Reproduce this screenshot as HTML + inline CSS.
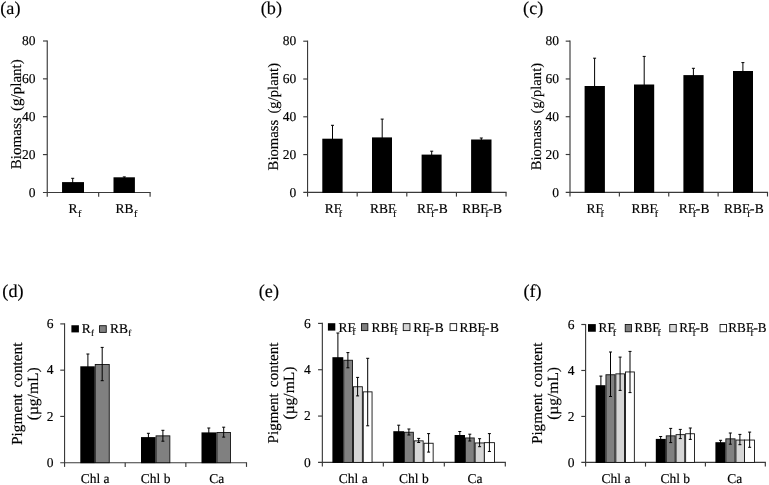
<!DOCTYPE html>
<html lang="en"><head><meta charset="utf-8"><title>Figure</title>
<style>
html,body{margin:0;padding:0;background:#fff;}
svg{display:block;font-family:"Liberation Serif", "Times New Roman", serif;fill:#000;text-rendering:geometricPrecision;}
text{stroke:#000;stroke-width:0.15px;}
</style></head>
<body>
<svg width="769" height="485" viewBox="0 0 769 485">
<rect width="769" height="485" fill="#fff"/>
<text x="0.30" y="14.10" font-size="18.2" text-anchor="start" >(a)</text>
<text x="260.80" y="14.10" font-size="18.2" text-anchor="start" >(b)</text>
<text x="523.10" y="14.30" font-size="18.2" text-anchor="start" >(c)</text>
<text x="2.35" y="296.60" font-size="18.2" text-anchor="start" >(d)</text>
<text x="258.75" y="296.50" font-size="18.2" text-anchor="start" >(e)</text>
<text x="523.40" y="296.60" font-size="18.2" text-anchor="start" >(f)</text>
<line x1="47.25" y1="40.42" x2="47.25" y2="196.65" stroke="#3a3a3a" stroke-width="1.15"/>
<line x1="42.95" y1="192.45" x2="150.67" y2="192.45" stroke="#3a3a3a" stroke-width="1.15"/>
<line x1="98.67" y1="192.45" x2="98.67" y2="196.65" stroke="#3a3a3a" stroke-width="1.15"/>
<line x1="150.10" y1="192.45" x2="150.10" y2="196.65" stroke="#3a3a3a" stroke-width="1.15"/>
<line x1="42.95" y1="41.00" x2="47.25" y2="41.00" stroke="#3a3a3a" stroke-width="1.15"/>
<text x="35.55" y="45.25" font-size="13.5" text-anchor="end" >80</text>
<line x1="42.95" y1="78.86" x2="47.25" y2="78.86" stroke="#3a3a3a" stroke-width="1.15"/>
<text x="35.55" y="83.11" font-size="13.5" text-anchor="end" >60</text>
<line x1="42.95" y1="116.72" x2="47.25" y2="116.72" stroke="#3a3a3a" stroke-width="1.15"/>
<text x="35.55" y="120.97" font-size="13.5" text-anchor="end" >40</text>
<line x1="42.95" y1="154.59" x2="47.25" y2="154.59" stroke="#3a3a3a" stroke-width="1.15"/>
<text x="35.55" y="158.84" font-size="13.5" text-anchor="end" >20</text>
<text x="35.55" y="196.70" font-size="13.5" text-anchor="end" >0</text>
<text transform="translate(21.10,114.20) rotate(-90)" font-size="15.05" word-spacing="2.6" text-anchor="middle">Biomass (g/plant)</text>
<line x1="72.70" y1="178.30" x2="72.70" y2="192.45" stroke="#000" stroke-width="1.0"/>
<line x1="71.20" y1="178.30" x2="74.20" y2="178.30" stroke="#000" stroke-width="1.0"/>
<line x1="124.30" y1="176.90" x2="124.30" y2="192.45" stroke="#000" stroke-width="1.0"/>
<line x1="122.80" y1="176.90" x2="125.80" y2="176.90" stroke="#000" stroke-width="1.0"/>
<rect x="62.05" y="182.10" width="21.95" height="10.85" fill="#000"/>
<rect x="113.50" y="177.30" width="21.40" height="15.65" fill="#000"/>
<text x="68.40" y="212.80" font-size="13.5" text-anchor="start" >R<tspan dx="0.5" dy="3.7" font-size="10">f</tspan></text>
<text x="115.60" y="212.80" font-size="13.5" text-anchor="start" >RB<tspan dx="0.5" dy="3.7" font-size="10">f</tspan></text>
<line x1="307.55" y1="40.62" x2="307.55" y2="196.60" stroke="#3a3a3a" stroke-width="1.15"/>
<line x1="303.25" y1="192.40" x2="506.62" y2="192.40" stroke="#3a3a3a" stroke-width="1.15"/>
<line x1="357.18" y1="192.40" x2="357.18" y2="196.60" stroke="#3a3a3a" stroke-width="1.15"/>
<line x1="406.80" y1="192.40" x2="406.80" y2="196.60" stroke="#3a3a3a" stroke-width="1.15"/>
<line x1="456.43" y1="192.40" x2="456.43" y2="196.60" stroke="#3a3a3a" stroke-width="1.15"/>
<line x1="506.05" y1="192.40" x2="506.05" y2="196.60" stroke="#3a3a3a" stroke-width="1.15"/>
<line x1="303.25" y1="41.20" x2="307.55" y2="41.20" stroke="#3a3a3a" stroke-width="1.15"/>
<text x="296.35" y="45.45" font-size="13.5" text-anchor="end" >80</text>
<line x1="303.25" y1="79.00" x2="307.55" y2="79.00" stroke="#3a3a3a" stroke-width="1.15"/>
<text x="296.35" y="83.25" font-size="13.5" text-anchor="end" >60</text>
<line x1="303.25" y1="116.80" x2="307.55" y2="116.80" stroke="#3a3a3a" stroke-width="1.15"/>
<text x="296.35" y="121.05" font-size="13.5" text-anchor="end" >40</text>
<line x1="303.25" y1="154.60" x2="307.55" y2="154.60" stroke="#3a3a3a" stroke-width="1.15"/>
<text x="296.35" y="158.85" font-size="13.5" text-anchor="end" >20</text>
<text x="296.35" y="196.65" font-size="13.5" text-anchor="end" >0</text>
<text transform="translate(277.50,116.70) rotate(-90)" font-size="14.7" word-spacing="2.6" text-anchor="middle">Biomass (g/plant)</text>
<line x1="332.50" y1="125.30" x2="332.50" y2="192.40" stroke="#000" stroke-width="1.0"/>
<line x1="331.00" y1="125.30" x2="334.00" y2="125.30" stroke="#000" stroke-width="1.0"/>
<line x1="382.20" y1="119.10" x2="382.20" y2="192.40" stroke="#000" stroke-width="1.0"/>
<line x1="380.70" y1="119.10" x2="383.70" y2="119.10" stroke="#000" stroke-width="1.0"/>
<line x1="431.70" y1="151.20" x2="431.70" y2="192.40" stroke="#000" stroke-width="1.0"/>
<line x1="430.20" y1="151.20" x2="433.20" y2="151.20" stroke="#000" stroke-width="1.0"/>
<line x1="481.30" y1="138.00" x2="481.30" y2="192.40" stroke="#000" stroke-width="1.0"/>
<line x1="479.80" y1="138.00" x2="482.80" y2="138.00" stroke="#000" stroke-width="1.0"/>
<rect x="322.30" y="138.70" width="20.30" height="54.20" fill="#000"/>
<rect x="372.00" y="137.40" width="20.00" height="55.50" fill="#000"/>
<rect x="421.60" y="154.60" width="20.00" height="38.30" fill="#000"/>
<rect x="471.10" y="139.50" width="20.40" height="53.40" fill="#000"/>
<text x="324.80" y="212.80" font-size="13.5" text-anchor="start" >RF<tspan dx="-2.5" dy="4.1" font-size="10">f</tspan></text>
<text x="369.90" y="212.80" font-size="13.5" text-anchor="start" >RBF<tspan dx="-2.5" dy="4.1" font-size="10">f</tspan></text>
<text x="417.00" y="212.80" font-size="13.5" text-anchor="start" >RF<tspan dx="-2.5" dy="4.1" font-size="10">f</tspan><tspan dx="-0.3" dy="-4.1">-</tspan><tspan dx="0.2">B</tspan></text>
<text x="462.30" y="212.80" font-size="13.5" text-anchor="start" >RBF<tspan dx="-2.5" dy="4.1" font-size="10">f</tspan><tspan dx="-0.3" dy="-4.1">-</tspan><tspan dx="0.2">B</tspan></text>
<line x1="570.00" y1="40.57" x2="570.00" y2="196.50" stroke="#3a3a3a" stroke-width="1.15"/>
<line x1="565.70" y1="192.30" x2="768.08" y2="192.30" stroke="#3a3a3a" stroke-width="1.15"/>
<line x1="619.38" y1="192.30" x2="619.38" y2="196.50" stroke="#3a3a3a" stroke-width="1.15"/>
<line x1="668.75" y1="192.30" x2="668.75" y2="196.50" stroke="#3a3a3a" stroke-width="1.15"/>
<line x1="718.12" y1="192.30" x2="718.12" y2="196.50" stroke="#3a3a3a" stroke-width="1.15"/>
<line x1="767.50" y1="192.30" x2="767.50" y2="196.50" stroke="#3a3a3a" stroke-width="1.15"/>
<line x1="565.70" y1="41.15" x2="570.00" y2="41.15" stroke="#3a3a3a" stroke-width="1.15"/>
<text x="559.00" y="45.40" font-size="13.5" text-anchor="end" >80</text>
<line x1="565.70" y1="78.94" x2="570.00" y2="78.94" stroke="#3a3a3a" stroke-width="1.15"/>
<text x="559.00" y="83.19" font-size="13.5" text-anchor="end" >60</text>
<line x1="565.70" y1="116.72" x2="570.00" y2="116.72" stroke="#3a3a3a" stroke-width="1.15"/>
<text x="559.00" y="120.97" font-size="13.5" text-anchor="end" >40</text>
<line x1="565.70" y1="154.51" x2="570.00" y2="154.51" stroke="#3a3a3a" stroke-width="1.15"/>
<text x="559.00" y="158.76" font-size="13.5" text-anchor="end" >20</text>
<text x="559.00" y="196.55" font-size="13.5" text-anchor="end" >0</text>
<text transform="translate(540.60,116.55) rotate(-90)" font-size="14.7" word-spacing="2.6" text-anchor="middle">Biomass (g/plant)</text>
<line x1="594.60" y1="58.20" x2="594.60" y2="192.30" stroke="#000" stroke-width="1.0"/>
<line x1="593.10" y1="58.20" x2="596.10" y2="58.20" stroke="#000" stroke-width="1.0"/>
<line x1="644.20" y1="56.40" x2="644.20" y2="192.30" stroke="#000" stroke-width="1.0"/>
<line x1="642.70" y1="56.40" x2="645.70" y2="56.40" stroke="#000" stroke-width="1.0"/>
<line x1="693.40" y1="68.30" x2="693.40" y2="192.30" stroke="#000" stroke-width="1.0"/>
<line x1="691.90" y1="68.30" x2="694.90" y2="68.30" stroke="#000" stroke-width="1.0"/>
<line x1="742.90" y1="62.60" x2="742.90" y2="192.30" stroke="#000" stroke-width="1.0"/>
<line x1="741.40" y1="62.60" x2="744.40" y2="62.60" stroke="#000" stroke-width="1.0"/>
<rect x="584.60" y="86.00" width="20.30" height="106.80" fill="#000"/>
<rect x="634.00" y="84.50" width="20.20" height="108.30" fill="#000"/>
<rect x="683.40" y="75.10" width="20.20" height="117.70" fill="#000"/>
<rect x="733.00" y="71.00" width="20.00" height="121.80" fill="#000"/>
<text x="586.50" y="212.80" font-size="13.5" text-anchor="start" >RF<tspan dx="-2.5" dy="4.1" font-size="10">f</tspan></text>
<text x="631.60" y="212.80" font-size="13.5" text-anchor="start" >RBF<tspan dx="-2.5" dy="4.1" font-size="10">f</tspan></text>
<text x="678.80" y="212.80" font-size="13.5" text-anchor="start" >RF<tspan dx="-2.5" dy="4.1" font-size="10">f</tspan><tspan dx="-0.3" dy="-4.1">-</tspan><tspan dx="0.2">B</tspan></text>
<text x="724.00" y="212.80" font-size="13.5" text-anchor="start" >RBF<tspan dx="-2.5" dy="4.1" font-size="10">f</tspan><tspan dx="-0.3" dy="-4.1">-</tspan><tspan dx="0.2">B</tspan></text>
<line x1="64.55" y1="323.32" x2="64.55" y2="466.90" stroke="#3a3a3a" stroke-width="1.15"/>
<line x1="60.25" y1="462.70" x2="247.07" y2="462.70" stroke="#3a3a3a" stroke-width="1.15"/>
<line x1="125.20" y1="462.70" x2="125.20" y2="466.90" stroke="#3a3a3a" stroke-width="1.15"/>
<line x1="185.85" y1="462.70" x2="185.85" y2="466.90" stroke="#3a3a3a" stroke-width="1.15"/>
<line x1="246.50" y1="462.70" x2="246.50" y2="466.90" stroke="#3a3a3a" stroke-width="1.15"/>
<line x1="60.25" y1="323.90" x2="64.55" y2="323.90" stroke="#3a3a3a" stroke-width="1.15"/>
<text x="53.45" y="328.15" font-size="13.5" text-anchor="end" >6</text>
<line x1="60.25" y1="370.17" x2="64.55" y2="370.17" stroke="#3a3a3a" stroke-width="1.15"/>
<text x="53.45" y="374.42" font-size="13.5" text-anchor="end" >4</text>
<line x1="60.25" y1="416.43" x2="64.55" y2="416.43" stroke="#3a3a3a" stroke-width="1.15"/>
<text x="53.45" y="420.68" font-size="13.5" text-anchor="end" >2</text>
<text x="53.45" y="466.95" font-size="13.5" text-anchor="end" >0</text>
<text transform="translate(21.70,393.70) rotate(-90)" font-size="15.3" word-spacing="2.6" text-anchor="middle">Pigment content</text>
<text transform="translate(38.00,393.80) rotate(-90)" font-size="15.5" word-spacing="2.6" text-anchor="middle">(µg/mL)</text>
<rect x="80.30" y="366.30" width="14.50" height="96.90" fill="#000"/>
<rect x="95.25" y="364.45" width="14.00" height="98.25" fill="#808080" stroke="#111" stroke-width="0.9"/>
<rect x="141.00" y="437.10" width="14.60" height="26.10" fill="#000"/>
<rect x="156.05" y="435.85" width="13.80" height="26.85" fill="#808080" stroke="#111" stroke-width="0.9"/>
<rect x="201.50" y="432.40" width="15.00" height="30.80" fill="#000"/>
<rect x="216.95" y="432.45" width="13.50" height="30.25" fill="#808080" stroke="#111" stroke-width="0.9"/>
<line x1="87.90" y1="354.00" x2="87.90" y2="462.70" stroke="#000" stroke-width="1.0"/>
<line x1="86.40" y1="354.00" x2="89.40" y2="354.00" stroke="#000" stroke-width="1.0"/>
<line x1="102.20" y1="347.40" x2="102.20" y2="380.70" stroke="#000" stroke-width="1.0"/>
<line x1="100.70" y1="347.40" x2="103.70" y2="347.40" stroke="#000" stroke-width="1.0"/>
<line x1="100.70" y1="380.70" x2="103.70" y2="380.70" stroke="#000" stroke-width="1.0"/>
<line x1="148.40" y1="433.30" x2="148.40" y2="462.70" stroke="#000" stroke-width="1.0"/>
<line x1="146.90" y1="433.30" x2="149.90" y2="433.30" stroke="#000" stroke-width="1.0"/>
<line x1="162.90" y1="430.30" x2="162.90" y2="441.20" stroke="#000" stroke-width="1.0"/>
<line x1="161.40" y1="430.30" x2="164.40" y2="430.30" stroke="#000" stroke-width="1.0"/>
<line x1="161.40" y1="441.20" x2="164.40" y2="441.20" stroke="#000" stroke-width="1.0"/>
<line x1="208.80" y1="428.00" x2="208.80" y2="462.70" stroke="#000" stroke-width="1.0"/>
<line x1="207.30" y1="428.00" x2="210.30" y2="428.00" stroke="#000" stroke-width="1.0"/>
<line x1="223.70" y1="427.20" x2="223.70" y2="437.10" stroke="#000" stroke-width="1.0"/>
<line x1="222.20" y1="427.20" x2="225.20" y2="427.20" stroke="#000" stroke-width="1.0"/>
<line x1="222.20" y1="437.10" x2="225.20" y2="437.10" stroke="#000" stroke-width="1.0"/>
<text x="95.10" y="483.30" font-size="13.5" text-anchor="middle" >Chl a</text>
<text x="155.60" y="483.30" font-size="13.5" text-anchor="middle" >Chl b</text>
<text x="216.70" y="483.30" font-size="13.5" text-anchor="middle" >Ca</text>
<rect x="71.40" y="325.25" width="7.50" height="7.15" fill="#000"/>
<text x="81.70" y="332.85" font-size="13.5" text-anchor="start" >R<tspan dx="0.4" dy="3.3" font-size="9">f</tspan></text>
<rect x="99.55" y="325.70" width="6.70" height="6.70" fill="#808080" stroke="#111" stroke-width="0.9"/>
<text x="109.90" y="332.85" font-size="13.5" text-anchor="start" >RB<tspan dx="0.4" dy="3.3" font-size="9">f</tspan></text>
<line x1="322.35" y1="322.82" x2="322.35" y2="466.60" stroke="#3a3a3a" stroke-width="1.15"/>
<line x1="318.05" y1="462.40" x2="505.88" y2="462.40" stroke="#3a3a3a" stroke-width="1.15"/>
<line x1="383.33" y1="462.40" x2="383.33" y2="466.60" stroke="#3a3a3a" stroke-width="1.15"/>
<line x1="444.32" y1="462.40" x2="444.32" y2="466.60" stroke="#3a3a3a" stroke-width="1.15"/>
<line x1="505.30" y1="462.40" x2="505.30" y2="466.60" stroke="#3a3a3a" stroke-width="1.15"/>
<line x1="318.05" y1="323.40" x2="322.35" y2="323.40" stroke="#3a3a3a" stroke-width="1.15"/>
<text x="310.65" y="327.65" font-size="13.5" text-anchor="end" >6</text>
<line x1="318.05" y1="369.73" x2="322.35" y2="369.73" stroke="#3a3a3a" stroke-width="1.15"/>
<text x="310.65" y="373.98" font-size="13.5" text-anchor="end" >4</text>
<line x1="318.05" y1="416.07" x2="322.35" y2="416.07" stroke="#3a3a3a" stroke-width="1.15"/>
<text x="310.65" y="420.32" font-size="13.5" text-anchor="end" >2</text>
<text x="310.65" y="466.65" font-size="13.5" text-anchor="end" >0</text>
<text transform="translate(278.00,393.00) rotate(-90)" font-size="15.05" word-spacing="2.6" text-anchor="middle">Pigment content</text>
<text transform="translate(294.30,393.10) rotate(-90)" font-size="15.5" word-spacing="2.6" text-anchor="middle">(µg/mL)</text>
<rect x="332.40" y="357.20" width="10.90" height="105.70" fill="#000"/>
<rect x="343.75" y="360.25" width="8.80" height="102.15" fill="#808080" stroke="#111" stroke-width="0.9"/>
<rect x="353.45" y="386.75" width="8.90" height="75.65" fill="#d6d6d6" stroke="#111" stroke-width="0.9"/>
<rect x="363.25" y="391.85" width="8.80" height="70.55" fill="#fff" stroke="#111" stroke-width="0.9"/>
<rect x="393.30" y="431.20" width="10.80" height="31.70" fill="#000"/>
<rect x="404.55" y="432.25" width="8.80" height="30.15" fill="#808080" stroke="#111" stroke-width="0.9"/>
<rect x="414.25" y="440.85" width="8.90" height="21.55" fill="#d6d6d6" stroke="#111" stroke-width="0.9"/>
<rect x="424.05" y="443.25" width="9.10" height="19.15" fill="#fff" stroke="#111" stroke-width="0.9"/>
<rect x="454.60" y="435.00" width="10.40" height="27.90" fill="#000"/>
<rect x="465.45" y="437.95" width="8.80" height="24.45" fill="#808080" stroke="#111" stroke-width="0.9"/>
<rect x="475.15" y="442.95" width="9.20" height="19.45" fill="#d6d6d6" stroke="#111" stroke-width="0.9"/>
<rect x="484.35" y="442.65" width="10.10" height="19.75" fill="#fff" stroke="#111" stroke-width="0.9"/>
<line x1="337.90" y1="333.00" x2="337.90" y2="462.40" stroke="#000" stroke-width="1.0"/>
<line x1="336.40" y1="333.00" x2="339.40" y2="333.00" stroke="#000" stroke-width="1.0"/>
<line x1="347.90" y1="352.60" x2="347.90" y2="367.80" stroke="#000" stroke-width="1.0"/>
<line x1="346.40" y1="352.60" x2="349.40" y2="352.60" stroke="#000" stroke-width="1.0"/>
<line x1="346.40" y1="367.80" x2="349.40" y2="367.80" stroke="#000" stroke-width="1.0"/>
<line x1="357.60" y1="377.40" x2="357.60" y2="395.90" stroke="#000" stroke-width="1.0"/>
<line x1="356.10" y1="377.40" x2="359.10" y2="377.40" stroke="#000" stroke-width="1.0"/>
<line x1="356.10" y1="395.90" x2="359.10" y2="395.90" stroke="#000" stroke-width="1.0"/>
<line x1="367.70" y1="358.30" x2="367.70" y2="425.80" stroke="#000" stroke-width="1.0"/>
<line x1="366.20" y1="358.30" x2="369.20" y2="358.30" stroke="#000" stroke-width="1.0"/>
<line x1="366.20" y1="425.80" x2="369.20" y2="425.80" stroke="#000" stroke-width="1.0"/>
<line x1="398.70" y1="425.20" x2="398.70" y2="462.40" stroke="#000" stroke-width="1.0"/>
<line x1="397.20" y1="425.20" x2="400.20" y2="425.20" stroke="#000" stroke-width="1.0"/>
<line x1="408.90" y1="429.00" x2="408.90" y2="435.00" stroke="#000" stroke-width="1.0"/>
<line x1="407.40" y1="429.00" x2="410.40" y2="429.00" stroke="#000" stroke-width="1.0"/>
<line x1="407.40" y1="435.00" x2="410.40" y2="435.00" stroke="#000" stroke-width="1.0"/>
<line x1="418.70" y1="438.40" x2="418.70" y2="442.50" stroke="#000" stroke-width="1.0"/>
<line x1="417.20" y1="438.40" x2="420.20" y2="438.40" stroke="#000" stroke-width="1.0"/>
<line x1="417.20" y1="442.50" x2="420.20" y2="442.50" stroke="#000" stroke-width="1.0"/>
<line x1="428.60" y1="433.60" x2="428.60" y2="452.10" stroke="#000" stroke-width="1.0"/>
<line x1="427.10" y1="433.60" x2="430.10" y2="433.60" stroke="#000" stroke-width="1.0"/>
<line x1="427.10" y1="452.10" x2="430.10" y2="452.10" stroke="#000" stroke-width="1.0"/>
<line x1="459.80" y1="431.50" x2="459.80" y2="462.40" stroke="#000" stroke-width="1.0"/>
<line x1="458.30" y1="431.50" x2="461.30" y2="431.50" stroke="#000" stroke-width="1.0"/>
<line x1="469.80" y1="434.20" x2="469.80" y2="441.00" stroke="#000" stroke-width="1.0"/>
<line x1="468.30" y1="434.20" x2="471.30" y2="434.20" stroke="#000" stroke-width="1.0"/>
<line x1="468.30" y1="441.00" x2="471.30" y2="441.00" stroke="#000" stroke-width="1.0"/>
<line x1="479.60" y1="438.70" x2="479.60" y2="446.70" stroke="#000" stroke-width="1.0"/>
<line x1="478.10" y1="438.70" x2="481.10" y2="438.70" stroke="#000" stroke-width="1.0"/>
<line x1="478.10" y1="446.70" x2="481.10" y2="446.70" stroke="#000" stroke-width="1.0"/>
<line x1="489.40" y1="433.60" x2="489.40" y2="451.50" stroke="#000" stroke-width="1.0"/>
<line x1="487.90" y1="433.60" x2="490.90" y2="433.60" stroke="#000" stroke-width="1.0"/>
<line x1="487.90" y1="451.50" x2="490.90" y2="451.50" stroke="#000" stroke-width="1.0"/>
<text x="353.20" y="483.30" font-size="13.5" text-anchor="middle" >Chl a</text>
<text x="413.90" y="483.30" font-size="13.5" text-anchor="middle" >Chl b</text>
<text x="474.90" y="483.30" font-size="13.5" text-anchor="middle" >Ca</text>
<rect x="327.90" y="323.20" width="7.40" height="7.40" fill="#000"/>
<text x="338.50" y="331.70" font-size="13.5" text-anchor="start" >RF<tspan dx="-2.7" dy="3.6" font-size="10">f</tspan></text>
<rect x="361.45" y="323.65" width="6.40" height="6.95" fill="#808080" stroke="#111" stroke-width="0.9"/>
<text x="371.50" y="331.70" font-size="13.5" text-anchor="start" >RBF<tspan dx="-2.7" dy="3.6" font-size="10">f</tspan></text>
<rect x="403.25" y="323.65" width="6.70" height="6.95" fill="#d6d6d6" stroke="#111" stroke-width="0.9"/>
<text x="413.20" y="331.70" font-size="13.5" text-anchor="start" >RF<tspan dx="-3.4" dy="4.1" font-size="10">f</tspan><tspan dx="-0.2" dy="-4.1">-</tspan><tspan dx="0.9">B</tspan></text>
<rect x="450.05" y="323.65" width="6.60" height="6.95" fill="#fff" stroke="#111" stroke-width="0.9"/>
<text x="459.40" y="331.70" font-size="13.5" text-anchor="start" >RBF<tspan dx="-3.4" dy="4.1" font-size="10">f</tspan><tspan dx="-0.2" dy="-4.1">-</tspan><tspan dx="0.9">B</tspan></text>
<line x1="585.60" y1="323.93" x2="585.60" y2="466.60" stroke="#3a3a3a" stroke-width="1.15"/>
<line x1="581.30" y1="462.40" x2="765.88" y2="462.40" stroke="#3a3a3a" stroke-width="1.15"/>
<line x1="645.50" y1="462.40" x2="645.50" y2="466.60" stroke="#3a3a3a" stroke-width="1.15"/>
<line x1="705.40" y1="462.40" x2="705.40" y2="466.60" stroke="#3a3a3a" stroke-width="1.15"/>
<line x1="765.30" y1="462.40" x2="765.30" y2="466.60" stroke="#3a3a3a" stroke-width="1.15"/>
<line x1="581.30" y1="324.50" x2="585.60" y2="324.50" stroke="#3a3a3a" stroke-width="1.15"/>
<text x="574.50" y="328.75" font-size="13.5" text-anchor="end" >6</text>
<line x1="581.30" y1="370.47" x2="585.60" y2="370.47" stroke="#3a3a3a" stroke-width="1.15"/>
<text x="574.50" y="374.72" font-size="13.5" text-anchor="end" >4</text>
<line x1="581.30" y1="416.43" x2="585.60" y2="416.43" stroke="#3a3a3a" stroke-width="1.15"/>
<text x="574.50" y="420.68" font-size="13.5" text-anchor="end" >2</text>
<text x="574.50" y="466.65" font-size="13.5" text-anchor="end" >0</text>
<text transform="translate(542.00,393.30) rotate(-90)" font-size="15.15" word-spacing="2.6" text-anchor="middle">Pigment content</text>
<text transform="translate(558.30,393.40) rotate(-90)" font-size="15.5" word-spacing="2.6" text-anchor="middle">(µg/mL)</text>
<rect x="595.60" y="385.20" width="9.90" height="77.70" fill="#000"/>
<rect x="605.95" y="374.75" width="9.00" height="87.65" fill="#808080" stroke="#111" stroke-width="0.9"/>
<rect x="615.85" y="373.85" width="8.70" height="88.55" fill="#d6d6d6" stroke="#111" stroke-width="0.9"/>
<rect x="625.45" y="371.95" width="8.90" height="90.45" fill="#fff" stroke="#111" stroke-width="0.9"/>
<rect x="655.80" y="438.90" width="10.00" height="24.00" fill="#000"/>
<rect x="666.25" y="435.85" width="8.90" height="26.55" fill="#808080" stroke="#111" stroke-width="0.9"/>
<rect x="676.05" y="434.65" width="8.70" height="27.75" fill="#d6d6d6" stroke="#111" stroke-width="0.9"/>
<rect x="685.65" y="433.75" width="8.80" height="28.65" fill="#fff" stroke="#111" stroke-width="0.9"/>
<rect x="715.40" y="442.20" width="10.00" height="20.70" fill="#000"/>
<rect x="725.85" y="438.85" width="9.20" height="23.55" fill="#808080" stroke="#111" stroke-width="0.9"/>
<rect x="735.95" y="440.05" width="8.50" height="22.35" fill="#d6d6d6" stroke="#111" stroke-width="0.9"/>
<rect x="744.45" y="440.05" width="10.00" height="22.35" fill="#fff" stroke="#111" stroke-width="0.9"/>
<line x1="600.90" y1="376.10" x2="600.90" y2="462.40" stroke="#000" stroke-width="1.0"/>
<line x1="599.40" y1="376.10" x2="602.40" y2="376.10" stroke="#000" stroke-width="1.0"/>
<line x1="610.50" y1="352.00" x2="610.50" y2="396.50" stroke="#000" stroke-width="1.0"/>
<line x1="609.00" y1="352.00" x2="612.00" y2="352.00" stroke="#000" stroke-width="1.0"/>
<line x1="609.00" y1="396.50" x2="612.00" y2="396.50" stroke="#000" stroke-width="1.0"/>
<line x1="620.10" y1="357.10" x2="620.10" y2="390.40" stroke="#000" stroke-width="1.0"/>
<line x1="618.60" y1="357.10" x2="621.60" y2="357.10" stroke="#000" stroke-width="1.0"/>
<line x1="618.60" y1="390.40" x2="621.60" y2="390.40" stroke="#000" stroke-width="1.0"/>
<line x1="630.00" y1="351.40" x2="630.00" y2="392.60" stroke="#000" stroke-width="1.0"/>
<line x1="628.50" y1="351.40" x2="631.50" y2="351.40" stroke="#000" stroke-width="1.0"/>
<line x1="628.50" y1="392.60" x2="631.50" y2="392.60" stroke="#000" stroke-width="1.0"/>
<line x1="660.70" y1="436.50" x2="660.70" y2="462.40" stroke="#000" stroke-width="1.0"/>
<line x1="659.20" y1="436.50" x2="662.20" y2="436.50" stroke="#000" stroke-width="1.0"/>
<line x1="670.70" y1="428.40" x2="670.70" y2="442.60" stroke="#000" stroke-width="1.0"/>
<line x1="669.20" y1="428.40" x2="672.20" y2="428.40" stroke="#000" stroke-width="1.0"/>
<line x1="669.20" y1="442.60" x2="672.20" y2="442.60" stroke="#000" stroke-width="1.0"/>
<line x1="680.30" y1="429.40" x2="680.30" y2="438.60" stroke="#000" stroke-width="1.0"/>
<line x1="678.80" y1="429.40" x2="681.80" y2="429.40" stroke="#000" stroke-width="1.0"/>
<line x1="678.80" y1="438.60" x2="681.80" y2="438.60" stroke="#000" stroke-width="1.0"/>
<line x1="690.30" y1="428.00" x2="690.30" y2="439.40" stroke="#000" stroke-width="1.0"/>
<line x1="688.80" y1="428.00" x2="691.80" y2="428.00" stroke="#000" stroke-width="1.0"/>
<line x1="688.80" y1="439.40" x2="691.80" y2="439.40" stroke="#000" stroke-width="1.0"/>
<line x1="720.60" y1="440.30" x2="720.60" y2="462.40" stroke="#000" stroke-width="1.0"/>
<line x1="719.10" y1="440.30" x2="722.10" y2="440.30" stroke="#000" stroke-width="1.0"/>
<line x1="730.30" y1="433.00" x2="730.30" y2="444.20" stroke="#000" stroke-width="1.0"/>
<line x1="728.80" y1="433.00" x2="731.80" y2="433.00" stroke="#000" stroke-width="1.0"/>
<line x1="728.80" y1="444.20" x2="731.80" y2="444.20" stroke="#000" stroke-width="1.0"/>
<line x1="739.90" y1="434.40" x2="739.90" y2="444.70" stroke="#000" stroke-width="1.0"/>
<line x1="738.40" y1="434.40" x2="741.40" y2="434.40" stroke="#000" stroke-width="1.0"/>
<line x1="738.40" y1="444.70" x2="741.40" y2="444.70" stroke="#000" stroke-width="1.0"/>
<line x1="749.65" y1="432.10" x2="749.65" y2="447.30" stroke="#000" stroke-width="1.0"/>
<line x1="748.15" y1="432.10" x2="751.15" y2="432.10" stroke="#000" stroke-width="1.0"/>
<line x1="748.15" y1="447.30" x2="751.15" y2="447.30" stroke="#000" stroke-width="1.0"/>
<text x="616.00" y="483.30" font-size="13.5" text-anchor="middle" >Chl a</text>
<text x="675.20" y="483.30" font-size="13.5" text-anchor="middle" >Chl b</text>
<text x="734.70" y="483.30" font-size="13.5" text-anchor="middle" >Ca</text>
<rect x="588.00" y="324.10" width="7.80" height="7.65" fill="#000"/>
<text x="598.60" y="331.90" font-size="13.2" text-anchor="start" >RF<tspan dx="-2.0" dy="3.8" font-size="10">f</tspan></text>
<rect x="625.25" y="324.55" width="6.30" height="7.20" fill="#808080" stroke="#111" stroke-width="0.9"/>
<text x="634.60" y="331.90" font-size="13.2" text-anchor="start" >RBF<tspan dx="-2.0" dy="3.8" font-size="10">f</tspan></text>
<rect x="669.75" y="324.55" width="6.50" height="7.20" fill="#d6d6d6" stroke="#111" stroke-width="0.9"/>
<text x="679.30" y="331.90" font-size="13.2" text-anchor="start" >RF<tspan dx="-3.0" dy="4.1" font-size="10">f</tspan><tspan dx="-0.2" dy="-4.1">-</tspan><tspan dx="0.0">B</tspan></text>
<rect x="720.05" y="324.55" width="6.50" height="7.20" fill="#fff" stroke="#111" stroke-width="0.9"/>
<text x="728.30" y="331.90" font-size="13.2" text-anchor="start" >RBF<tspan dx="-3.0" dy="4.1" font-size="10">f</tspan><tspan dx="-0.2" dy="-4.1">-</tspan><tspan dx="0.0">B</tspan></text>
</svg>
</body></html>
